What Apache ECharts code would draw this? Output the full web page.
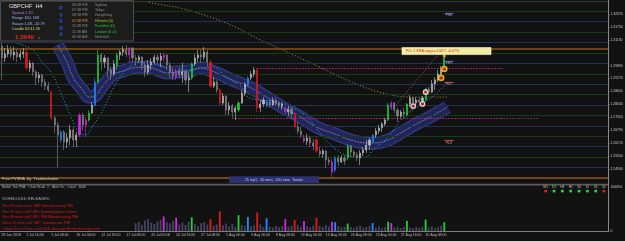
<!DOCTYPE html>
<html>
<head>
<meta charset="utf-8">
<script src="https://cdn.jsdelivr.net/npm/echarts@6/dist/echarts.min.js"></script>
<style>
html, body { margin: 0; padding: 0; background: #121212; }
#chart { width: 625px; height: 241px; }
</style>
</head>
<body>
<div id="chart"></div>
<script>
// GBPCHF, one candle = two H4 bars, oldest first
const opens = [
  1.3083,1.3026,1.3045,1.3064,1.3040,1.3054,1.3030,1.3045,1.3054,1.2978,
  1.3002,1.2958,1.2930,1.2944,1.2910,1.2891,1.2862,1.2738,1.2704,1.2632,
  1.2670,1.2622,1.2642,1.2680,1.2632,1.2656,1.2752,1.2704,1.2728,1.2762,
  1.2800,1.2910,1.3040,1.3006,1.3026,1.2968,1.2949,1.2987,1.3040,1.3054,
  1.3064,1.3040,1.3074,1.3026,1.3016,1.3030,1.2992,1.2958,1.2992,1.3006,
  1.3030,1.3016,1.3026,1.3040,1.2992,1.2958,1.2934,1.2963,1.2944,1.2958,
  1.2920,1.2930,1.2997,1.3026,1.3040,1.3030,1.3054,1.3006,1.2891,1.2910,
  1.2872,1.2810,1.2843,1.2776,1.2795,1.2766,1.2776,1.2810,1.2858,1.2896,
  1.2930,1.2949,1.2968,1.2786,1.2805,1.2795,1.2814,1.2800,1.2824,1.2810,
  1.2795,1.2786,1.2766,1.2781,1.2757,1.2694,1.2675,1.2642,1.2627,1.2642,
  1.2618,1.2632,1.2579,1.2565,1.2579,1.2536,1.2526,1.2488,1.2546,1.2526,
  1.2546,1.2546,1.2603,1.2574,1.2560,1.2546,1.2570,1.2584,1.2608,1.2622,
  1.2656,1.2675,1.2690,1.2709,1.2728,1.2786,1.2810,1.2776,1.2747,1.2766,
  1.2752,1.2805,1.2834,1.2810,1.2824,1.2819,1.2824,1.2877,1.2862,1.2901,
  1.2920,1.2949,1.2968
];
const closes = [
  1.3026,1.3045,1.3064,1.3040,1.3054,1.3030,1.3045,1.3054,1.2978,1.3002,
  1.2958,1.2930,1.2944,1.2910,1.2891,1.2872,1.2738,1.2704,1.2656,1.2670,
  1.2622,1.2642,1.2680,1.2632,1.2656,1.2752,1.2704,1.2728,1.2762,1.2800,
  1.2910,1.3040,1.3006,1.3026,1.2968,1.2949,1.2997,1.3040,1.3054,1.3064,
  1.3045,1.3074,1.3026,1.3016,1.3030,1.2992,1.2958,1.2992,1.3006,1.3030,
  1.3016,1.3035,1.3040,1.2992,1.2958,1.2939,1.2963,1.2944,1.2958,1.2920,
  1.2930,1.2997,1.3026,1.3040,1.3030,1.3054,1.3006,1.2891,1.2910,1.2872,
  1.2810,1.2843,1.2776,1.2795,1.2766,1.2786,1.2810,1.2858,1.2901,1.2930,
  1.2949,1.2968,1.2786,1.2805,1.2824,1.2814,1.2800,1.2824,1.2810,1.2795,
  1.2805,1.2766,1.2781,1.2757,1.2694,1.2675,1.2656,1.2627,1.2642,1.2618,
  1.2603,1.2579,1.2565,1.2579,1.2536,1.2526,1.2478,1.2546,1.2526,1.2546,
  1.2531,1.2603,1.2574,1.2560,1.2546,1.2570,1.2584,1.2608,1.2632,1.2656,
  1.2675,1.2690,1.2709,1.2728,1.2800,1.2810,1.2776,1.2747,1.2766,1.2757,
  1.2805,1.2834,1.2810,1.2824,1.2814,1.2834,1.2877,1.2862,1.2901,1.2920,
  1.2949,1.2968,1.3040
];
const lows = [
  1.2920,1.3006,1.3030,1.3026,1.3016,1.3006,1.3016,1.3026,1.2968,1.2958,
  1.2939,1.2896,1.2906,1.2886,1.2872,1.2862,1.2728,1.2666,1.2502,1.2618,
  1.2584,1.2594,1.2608,1.2598,1.2598,1.2646,1.2680,1.2646,1.2718,1.2757,
  1.2790,1.2901,1.2968,1.2978,1.2934,1.2920,1.2939,1.2968,1.3016,1.3035,
  1.3030,1.3006,1.3006,1.2987,1.3002,1.2968,1.2934,1.2944,1.2968,1.2997,
  1.2997,1.2982,1.3006,1.2968,1.2930,1.2920,1.2920,1.2930,1.2906,1.2896,
  1.2862,1.2920,1.2987,1.3006,1.3002,1.3016,1.2982,1.2882,1.2882,1.2858,
  1.2800,1.2800,1.2752,1.2752,1.2738,1.2728,1.2766,1.2805,1.2843,1.2886,
  1.2920,1.2934,1.2766,1.2766,1.2790,1.2786,1.2786,1.2795,1.2795,1.2781,
  1.2776,1.2757,1.2747,1.2738,1.2685,1.2661,1.2642,1.2618,1.2608,1.2598,
  1.2584,1.2570,1.2550,1.2546,1.2498,1.2512,1.2450,1.2474,1.2507,1.2522,
  1.2512,1.2536,1.2550,1.2546,1.2531,1.2512,1.2555,1.2570,1.2584,1.2618,
  1.2642,1.2661,1.2670,1.2699,1.2723,1.2776,1.2762,1.2718,1.2738,1.2742,
  1.2742,1.2790,1.2790,1.2800,1.2800,1.2810,1.2814,1.2848,1.2858,1.2872,
  1.2910,1.2930,1.2958
];
const highs = [
  1.3102,1.3074,1.3088,1.3083,1.3078,1.3069,1.3064,1.3074,1.3064,1.3016,
  1.3006,1.2968,1.2958,1.2949,1.2925,1.2910,1.2872,1.2747,1.2718,1.2680,
  1.2680,1.2666,1.2704,1.2694,1.2670,1.2762,1.2762,1.2742,1.2776,1.2814,
  1.2930,1.3064,1.3050,1.3040,1.3030,1.2987,1.3016,1.3050,1.3064,1.3083,
  1.3088,1.3078,1.3078,1.3040,1.3040,1.3035,1.3006,1.3016,1.3026,1.3040,
  1.3045,1.3050,1.3050,1.3045,1.3006,1.2978,1.2973,1.2982,1.3002,1.2968,
  1.2958,1.3006,1.3045,1.3064,1.3064,1.3078,1.3064,1.3016,1.2934,1.2920,
  1.2882,1.2858,1.2848,1.2814,1.2805,1.2795,1.2819,1.2872,1.2910,1.2939,
  1.2963,1.2982,1.2978,1.2824,1.2838,1.2824,1.2829,1.2838,1.2834,1.2819,
  1.2814,1.2795,1.2795,1.2790,1.2766,1.2718,1.2694,1.2656,1.2661,1.2651,
  1.2637,1.2646,1.2598,1.2589,1.2584,1.2550,1.2541,1.2555,1.2560,1.2560,
  1.2560,1.2613,1.2608,1.2584,1.2574,1.2584,1.2598,1.2632,1.2642,1.2661,
  1.2690,1.2704,1.2718,1.2738,1.2810,1.2819,1.2814,1.2786,1.2776,1.2786,
  1.2810,1.2848,1.2838,1.2838,1.2834,1.2843,1.2882,1.2886,1.2920,1.2934,
  1.2968,1.2987,1.3050
];
// broker tick volume, histogram only drawn for the recent candles
const volumes = [
  null,null,null,null,null,null,null,null,null,null,
  null,null,null,null,null,null,null,null,null,null,
  null,null,null,null,null,null,null,null,null,null,
  null,null,null,null,null,null,null,null,null,null,
  null,null,null,18000,21000,14000,24000,27000,19000,16000,
  22000,25000,33000,20000,17000,23000,30000,15000,19000,14000,
  21000,31000,16000,12000,18000,20000,14000,27000,12000,15000,
  45000,13000,17000,11000,16000,10000,36000,14000,12000,32000,
  11000,13000,42000,15000,9000,29000,10000,8000,12000,9000,
  11000,27000,10000,12000,25000,14000,9000,23000,11000,8000,
  13000,30000,12000,9000,14000,10000,21000,20000,11000,8000,
  10000,17000,9000,7000,10000,12000,8000,9000,11000,18000,
  8000,10000,7000,9000,21000,18000,8000,10000,7000,9000,
  23000,8000,6000,9000,7000,10000,26000,8000,11000,7000,
  9000,12000,20000
];
// PVSRA class by candle index: r/g climax bear/bull, m/b rising volume bear/bull
const pvsraClass = {
  8:'r',16:'r',19:'b',25:'m',27:'m',28:'g',30:'b',31:'g',37:'g',41:'m',
  52:'m',56:'m',61:'g',67:'r',70:'r',76:'g',79:'b',82:'r',85:'b',91:'m',
  94:'r',97:'m',101:'r',106:'m',107:'b',111:'g',119:'b',124:'g',125:'m',
  130:'g',136:'g',142:'g'
};
const timeLabels = [
  '28 Jun 2018','2 Jul 16:00','5 Jul 08:00','10 Jul 00:00','12 Jul 16:00',
  '17 Jul 08:00','20 Jul 00:00','24 Jul 16:00','27 Jul 08:00','1 Aug 00:00',
  '3 Aug 16:00','8 Aug 08:00','13 Aug 00:00','15 Aug 16:00','20 Aug 08:00',
  '23 Aug 00:00','27 Aug 16:00','30 Aug 08:00'
];
const slotCount = 195; // candles plus chart shift on the right
const priceTicks = [1.2493,1.2555,1.2617,1.2679,1.2741,1.2803,1.2865,1.2927,1.2989,1.3113,1.3175,1.3237];
const volumeTicks = [0, 100094];
const roundLevels = [1.245,1.250,1.255,1.260,1.265,1.270,1.275,1.280,1.285,1.290,1.295,1.300,1.305,1.310,1.315,1.320,1.325];

// [candle index, price]
const maBand = [
  [18.1,1.3088],[20.7,1.3006],[23.2,1.2930],[25.8,1.2872],[28.4,1.2838],[30.3,1.2843],
  [32.2,1.2882],[34.1,1.2920],[36.4,1.2949],[38.6,1.2963],[42.2,1.2978],[46.6,1.2982],
  [49.9,1.2968],[53.1,1.2954],[56.3,1.2958],[59.5,1.2963],[63.6,1.2978],[69.1,1.2954],
  [74.2,1.2920],[79.7,1.2882],[85.1,1.2838],[90.3,1.2790],[95.7,1.2742],[101.2,1.2694],
  [106.3,1.2666],[111.8,1.2632],[117.2,1.2618],[120.4,1.2618],[123.6,1.2632],[127.8,1.2666],
  [133.2,1.2709],[138.4,1.2747],[142.9,1.2790]
];
const ema25 = [
  [4.3,1.3102],[10.1,1.3064],[13,1.3006],[15.5,1.2954],[18.7,1.2858],[22.6,1.2718],
  [25.2,1.2666],[27.4,1.2656],[29.3,1.2694],[31.6,1.2762],[33.8,1.2824],[35.7,1.2886],
  [38,1.2934],[41.2,1.2982],[44.4,1.3002],[49.9,1.2992],[55,1.2968],[59.5,1.2968],
  [63.6,1.2978],[67.8,1.2982],[72.3,1.2934],[76.5,1.2886],[79,1.2838],[82.9,1.2824],
  [89.3,1.2814],[95.7,1.2766],[98.9,1.2728],[104.4,1.2632],[108.5,1.2570],[114,1.2550],
  [117.2,1.2550],[119.1,1.2584],[123.6,1.2646],[127.8,1.2728],[132,1.2776],[138.4,1.2838],
  [142.9,1.2906]
];
const ema200 = [
  [40,1.3330],[47,1.3294],[57.2,1.3266],[66.9,1.3222],[74.9,1.3174],[82.9,1.3112],
  [92.5,1.3045],[104.4,1.2968],[113.4,1.2906],[122.3,1.2858],[131,1.2838],[142.9,1.2838]
];
const pivotDots = [[132,1.2795],[135,1.2805],[136,1.2862]];
const signalDots = [[141,1.2930],[142,1.2973]];
const sparkDot = [[142,1.3035]];
const channelUpper = [[126,1.2790],[141.5,1.3078]];
const channelLower = [[129,1.2738],[142.5,1.2987]];
const dayHigh = 1.3069;
const dayLow = 1.2450;
const bid = 1.3040;
const ask2 = 1.2431;
// short level markers left of the chart shift: [price, name]
const levelTags = [[1.3242,'FH4'],[1.3011,'FH1'],[1.2910,'FL1'],[1.2629,'FL4']];
const sessionTimes = ['06:38 PM','07:38 PM','08:38 PM','01:38 PM','12:38 PM','11:38 AM','06:38 AM'];
const sessionNames = ['Sydney','Tokyo','HongKong','Helsinki (0)','Frankfurt (0)','London (0+1)','NewYork'];
const releases = [
  '2hrs 58 mins since GBP: Manufacturing PMI',
  '2hrs 12 mins until USD: Unemployment Claims',
  '3hrs 40 mins until USD: ISM Manufacturing PMI',
  '20hrs 12 mins until GBP: Construction PMI',
  '1 days 2hrs 12 mins until USD: Average Hourly Earnings m/m'
];
const tfNames = ['W1','D1','H4','H1','30','15','05','01'];
const tfUp = [false,true,true,true,true,true,true,false];

const pvsraColors = { r: '#e01b1b', g: '#1fd23c', b: '#1e8cff', m: '#d02ae8' };
const FONT = 'Liberation Sans';

const categories = Array.from({ length: slotCount }, (_, i) => String(i));

const candleData = opens.map((o, i) => {
  const item = { value: [o, closes[i], lows[i], highs[i]] };
  const cls = pvsraClass[i];
  if (cls) {
    const c = pvsraColors[cls];
    item.itemStyle = { color: c, color0: c, borderColor: c, borderColor0: c };
  }
  return item;
});
const volumeData = volumes.map((v, i) => {
  const cls = pvsraClass[i];
  return { value: v, itemStyle: { color: cls ? pvsraColors[cls] : '#44445f' } };
});

const txt = (x, y, text, fill, size, more) => ({
  type: 'text', x: x, y: y, z: 60,
  style: Object.assign({ text: text, fill: fill, fontSize: size, fontFamily: FONT, verticalAlign: 'middle' }, more || {})
});

const graphics = [];
// info panel top left
graphics.push({ type: 'rect', z: 55, shape: { x: 0.5, y: 0.5, width: 133, height: 40.5 },
  style: { fill: '#1c1c1c', stroke: '#4c4c4c', lineWidth: 1 } });
graphics.push(txt(9, 6, 'GBPCHF  H4', '#e6e6e6', 5.6));
graphics.push(txt(12, 12.7, 'Spread 1.70', '#b578e8', 3.8));
graphics.push(txt(12, 18.3, 'Range 100, 168', '#98b8f0', 3.8));
graphics.push(txt(12, 24, 'Swaps 1.48, -10.79', '#98b8f0', 3.8));
graphics.push(txt(12, 29.3, 'Candle 02:41:26', '#d8d070', 3.8));
graphics.push(txt(15, 37, '1.3040', '#ff2222', 6.2, { fontWeight: 'bold' }));
graphics.push(txt(38, 37.5, 's', '#a0a0a0', 3.6));
['P','V','S','R','A'].forEach((ch, k) => {
  graphics.push(txt(61, 9 + k * 6.5, ch, '#3552e6', 5, { fontWeight: 'bold', align: 'center' }));
});
const rowY = [4.7, 10, 15.3, 20.7, 26, 31.7, 37.2];
const timeColors = ['#8e8e8e','#8e8e8e','#8e8e8e','#e0902a','#8e8e8e','#8e8e8e','#8e8e8e'];
const nameColors = ['#8e8e8e','#8e8e8e','#8e8e8e','#8fd030','#1fd23c','#1fd23c','#8e8e8e'];
sessionTimes.forEach((t, k) => {
  graphics.push(txt(72, rowY[k], t, timeColors[k], 3.6));
  graphics.push(txt(95, rowY[k], sessionNames[k], nameColors[k], 3.6));
});
// credits and trend label
graphics.push(txt(2, 178.5, 'Free PVSRA  by  Traderathome', '#d8d0a0', 4));
graphics.push({ type: 'rect', z: 55, shape: { x: 229, y: 176.3, width: 90, height: 6.6 }, style: { fill: '#2b3170' } });
graphics.push(txt(274, 179.7, '25 mp1,  50 ema,  200 ema  Trends', '#c6c6dc', 3.7, { align: 'center' }));
// PLL label
graphics.push({ type: 'rect', z: 55, shape: { x: 402, y: 47.6, width: 89, height: 7 }, style: { fill: '#f2eca2', stroke: '#fffbe0', lineWidth: 0.6 } });
graphics.push(txt(406, 51.2, 'PLL 1 ERA avg p=-103.7, -0.07%', '#d42412', 3.6));
// subwindow separator, frame
graphics.push({ type: 'line', z: 55, shape: { x1: 0, y1: 184.6, x2: 608, y2: 184.6 }, style: { stroke: '#5c5c5c', lineWidth: 1.6 } });
graphics.push({ type: 'line', z: 55, shape: { x1: 0, y1: 1.5, x2: 608, y2: 1.5 }, style: { stroke: '#3a3a3a', lineWidth: 1 } });
graphics.push({ type: 'line', z: 55, shape: { x1: 608.5, y1: 0, x2: 608.5, y2: 232 }, style: { stroke: '#8a8a8a', lineWidth: 1 } });
// volume subwindow texts
graphics.push(txt(2, 187.5, 'Broker Tick PVA:   Chart Scale  2,   Alert On,   Count   6040', '#b8b8b8', 3.2));
graphics.push(txt(2, 199, 'SCHEDULED RELEASES:', '#a8a8a8', 4));
const relY = [205.5, 211.5, 217.3, 223.3, 229];
releases.forEach((r, k) => graphics.push(txt(2, relY[k], r, '#e01818', 3.6)));
// timeframe trend boxes
tfNames.forEach((n, k) => {
  const cx = 545.7 + k * 8.33;
  graphics.push(txt(cx, 187.3, n, '#c4c4c4', 3.2, { align: 'center' }));
  graphics.push({ type: 'rect', z: 60, shape: { x: cx - 1.3, y: 189.8, width: 2.6, height: 2.6 }, style: { fill: tfUp[k] ? '#1fe03c' : '#f01818' } });
});

const levelLines = roundLevels.map(v => ({
  yAxis: v,
  lineStyle: { color: Math.round(v * 200) % 2 === 0 ? '#1f3154' : '#183a18', width: 1, type: 'solid' }
}));

const tagSegments = levelTags.map(([p, name], k) => [
  { coord: [141.6, p], lineStyle: { color: k < 2 ? '#4652c4' : '#c8383a', width: 1.2, type: 'solid' },
    label: { show: true, position: 'insideMiddleBottom', distance: 0.5, formatter: name, fontSize: 3.3, fontFamily: FONT, color: '#b0b0b0' } },
  { coord: [144.8, p] }
]);

const priceLabel = (v, bg, fg) => ({
  yAxis: v,
  lineStyle: { opacity: 0 },
  label: { show: true, position: 'end', distance: 1, formatter: v.toFixed(5), fontSize: 3.4, fontFamily: FONT,
    color: fg, backgroundColor: bg, padding: [0.6, 1.2] }
});

const bandLine = (color, width, type) => ({
  type: 'line', xAxisIndex: 0, yAxisIndex: 0, data: maBand, smooth: 0.35, symbol: 'none', z: 3, silent: true,
  lineStyle: { color: color, width: width, type: type || 'solid', cap: 'butt', join: 'round' }
});

const option = {
  backgroundColor: '#121212',
  animation: false,
  grid: [
    { left: 0, right: 17, top: 2, height: 182, outerBoundsMode: 'none' },
    { left: 0, right: 17, top: 187, height: 44, outerBoundsMode: 'none' }
  ],
  xAxis: [
    { type: 'category', gridIndex: 0, data: categories, boundaryGap: true,
      axisLine: { show: false }, axisTick: { show: false }, axisLabel: { show: false }, splitLine: { show: false } },
    { type: 'category', gridIndex: 1, data: categories, boundaryGap: true,
      axisLine: { lineStyle: { color: '#7c7c7c', width: 1 } }, axisTick: { show: false },
      axisLabel: { interval: 7, align: 'left', margin: 2, fontSize: 3.5, fontFamily: FONT, color: '#bdbdbd',
        formatter: (v, idx) => timeLabels[idx / 8] || '' },
      splitLine: { show: false } }
  ],
  yAxis: [
    { type: 'value', gridIndex: 0, position: 'right', min: 1.24208, max: 1.32944,
      splitLine: { show: false },
      axisLine: { show: false },
      axisTick: { show: true, length: 1.5, lineStyle: { color: '#8a8a8a' }, customValues: priceTicks },
      axisLabel: { margin: 2.5, fontSize: 3.4, fontFamily: FONT, color: '#c8c8c8', customValues: priceTicks,
        formatter: v => v.toFixed(5) } },
    { type: 'value', gridIndex: 1, position: 'right', min: 0, max: 100094,
      splitLine: { show: false }, axisLine: { show: false },
      axisTick: { show: false },
      axisLabel: { margin: 2.5, fontSize: 3.4, fontFamily: FONT, color: '#c8c8c8', customValues: volumeTicks,
        formatter: v => String(v) } }
  ],
  graphic: { elements: graphics },
  series: [
    { type: 'line', xAxisIndex: 0, yAxisIndex: 0, data: [], z: 1, silent: true,
      markLine: { silent: true, precision: 5, symbol: ['none', 'none'], label: { show: false }, animation: false,
        data: levelLines } },
    { type: 'line', xAxisIndex: 0, yAxisIndex: 0, data: [], z: 2, silent: true,
      markLine: { silent: true, precision: 5, symbol: ['none', 'none'], label: { show: false }, animation: false,
        data: [
          [{ coord: [82, 1.2978], lineStyle: { color: '#c8207c', type: [1.5, 1.5], width: 1 } }, { coord: [161, 1.2978] }],
          [{ coord: [74, 1.2738], lineStyle: { color: '#c8207c', type: [1.5, 1.5], width: 1 } }, { coord: [160, 1.2738] }],
          [{ coord: [160, 1.2738], lineStyle: { color: '#7a3c5c', type: [1.5, 1.5], width: 1 } }, { coord: [172, 1.2738] }],
          { yAxis: dayHigh, lineStyle: { color: '#8a5614', width: 1.5, type: 'solid' } },
          { yAxis: dayLow, lineStyle: { color: '#8a5614', width: 1.5, type: 'solid' } }
        ].concat(tagSegments) } },
    bandLine('#30367a', 13),
    bandLine('#20245a', 10),
    bandLine('#34397c', 0.6),
    bandLine('#8c8cab', 0.7, [2, 1]),
    { type: 'line', xAxisIndex: 0, yAxisIndex: 0, data: ema25, smooth: 0.35, symbol: 'none', z: 4, silent: true,
      lineStyle: { color: '#1fb4c8', width: 1, type: [1, 2] } },
    { type: 'line', xAxisIndex: 0, yAxisIndex: 0, data: ema200, smooth: 0.35, symbol: 'none', z: 4, silent: true,
      lineStyle: { color: '#a89a48', width: 1, type: [1, 2] } },
    { type: 'line', xAxisIndex: 0, yAxisIndex: 0, data: channelUpper, symbol: 'none', z: 4, silent: true,
      lineStyle: { color: '#b06a80', width: 0.8, type: [1, 1.5] } },
    { type: 'line', xAxisIndex: 0, yAxisIndex: 0, data: channelLower, symbol: 'none', z: 4, silent: true,
      lineStyle: { color: '#8a8a8a', width: 0.8, type: [1, 1.5] } },
    { type: 'candlestick', xAxisIndex: 0, yAxisIndex: 0, data: candleData, barWidth: 1.6, z: 5,
      itemStyle: { color: '#b9b9b9', color0: '#7c7c7c', borderColor: '#c4c4c4', borderColor0: '#8c8c8c', borderWidth: 0.6 },
      markLine: { silent: true, precision: 5, symbol: ['none', 'none'], animation: false,
        data: [priceLabel(dayHigh, '#ee930e', '#1a1a1a'), priceLabel(bid, '#c8c8c8', '#1a1a1a'),
               priceLabel(dayLow, '#ee930e', '#1a1a1a'), priceLabel(ask2, '#c8c8c8', '#1a1a1a')] } },
    { type: 'scatter', xAxisIndex: 0, yAxisIndex: 0, data: pivotDots, symbolSize: 4.5, z: 6,
      itemStyle: { color: '#d42020', borderColor: '#ffffff', borderWidth: 1.3 } },
    { type: 'scatter', xAxisIndex: 0, yAxisIndex: 0, data: signalDots, symbolSize: 5, z: 6,
      itemStyle: { color: '#d42020', borderColor: '#ffd21c', borderWidth: 1.6 } },
    { type: 'scatter', xAxisIndex: 0, yAxisIndex: 0, data: sparkDot, symbolSize: 3, z: 6,
      itemStyle: { color: '#ffd21c', borderColor: '#d42020', borderWidth: 0.6 } },
    { type: 'bar', xAxisIndex: 1, yAxisIndex: 1, data: volumeData, barWidth: 1.8, z: 3 }
  ]
};

const chart = echarts.init(document.getElementById('chart'), null, { renderer: 'canvas' });
chart.setOption(option);
</script>
</body>
</html>
